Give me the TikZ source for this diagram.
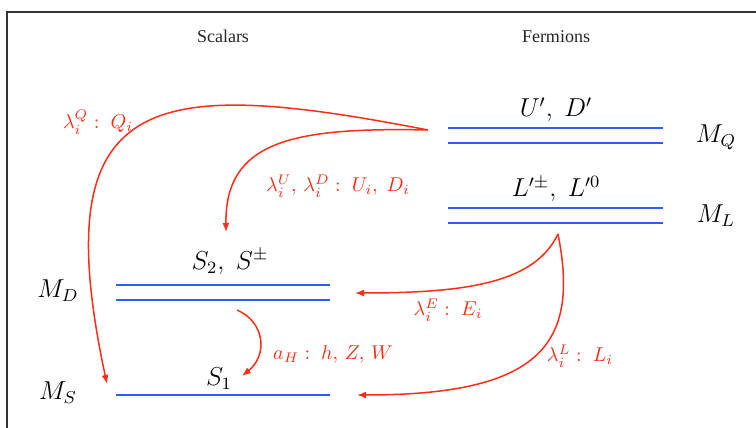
\documentclass[tikz,border=0pt]{standalone}
\usepackage{fontspec}
\newfontfamily\timesfont{Liberation Serif}
\usepackage{tikz}
\usetikzlibrary{arrows.meta}
\definecolor{lvlblue}{RGB}{45,90,250}
\definecolor{mixred}{RGB}{250,45,25}

\begin{document}
\begin{tikzpicture}[
  x=0.5pt,y=-0.5pt,
  level/.style={draw=lvlblue,line width=0.8pt},
  mix/.style={draw=mixred,line width=0.75pt,-{Latex[length=4.5pt,width=3.5pt]}},
  mixlbl/.style={text=mixred,font=\normalsize},
  state/.style={font=\large,scale=1.08},
  head/.style={text=black!85,font=\timesfont\small}]
\useasboundingbox (0,0) rectangle (756,428);
% frame
\draw[black!80,line width=0.9pt] (7,428) |- (756,12);
% headers
\node[head] (hs) at (223,36) {Scalars};
\node[head] (hf) at (556,37) {Fermions};
% fermion levels
\draw[level] (448,128) -- (663,128);
\draw[level] (448,143) -- (663,143);
\draw[level] (448,208) -- (663,208);
\draw[level] (448,223) -- (663,223);
\node[state] (ud) at (556,110) {$U',\;D'$};
\node[state] (ll) at (556,189) {$L'^{\pm},\;L'^{0}$};
\node[state] (mq) at (716,137) {$M_Q$};
\node[state] (ml) at (716,216) {$M_L$};
% scalar levels
\draw[level] (116,285) -- (330,285);
\draw[level] (116,300) -- (330,300);
\draw[level] (116,395) -- (330,395);
\node[state] (s2) at (230,262) {$S_2,\;S^{\pm}$};
\node[state] (s1) at (219,379) {$S_1$};
\node[state] (md) at (58,291) {$M_D$};
\node[state] (ms) at (58,393) {$M_S$};
% mixing ends
\coordinate (qsrc) at (428,130);
\coordinate (lsrc) at (558,234);
\coordinate (dsrc) at (237,310);
\coordinate (qs) at (107,384);
\coordinate (qd) at (226,232);
\coordinate (le) at (355,293);
\coordinate (lls) at (357,395);
\coordinate (ds) at (242,376);
% mixing arrows
\draw[mix] (qsrc) .. controls (150,76) and (44,90) .. (qs);
\draw[mix] (qsrc) .. controls (290,127) and (225,142) .. (qd);
\draw[mix] (lsrc) .. controls (535,282) and (470,293) .. (le);
\draw[mix] (lsrc) .. controls (580,345) and (540,395) .. (lls);
\draw[mix] (dsrc) .. controls (265,322) and (268,355) .. (ds);
\node[mixlbl] (lq) at (98,122) {$\lambda_i^Q :\; Q_i$};
\node[mixlbl] (lud) at (338,186) {$\lambda_i^U,\,\lambda_i^D :\; U_i,\;D_i$};
\node[mixlbl] (lle) at (448,310) {$\lambda_i^E :\; E_i$};
\node[mixlbl] (lll) at (580,356) {$\lambda_i^L :\; L_i$};
\node[mixlbl] (lah) at (333,354) {$a_H :\; h,\,Z,\,W$};
\end{tikzpicture}
\end{document}
